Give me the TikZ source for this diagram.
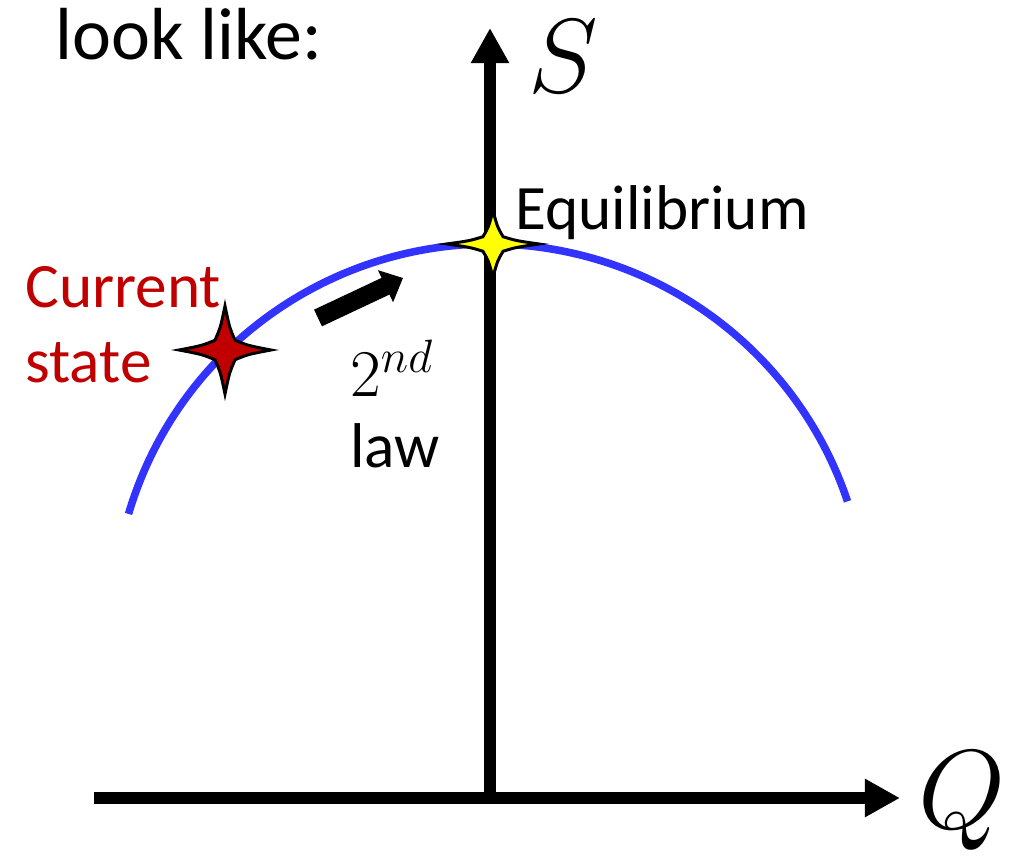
\RequirePackage{fix-cm}
\documentclass[tikz,border=0pt]{standalone}
\usepackage{fontspec}
\setmainfont{Carlito}
\usetikzlibrary{arrows.meta}
\definecolor{curveblue}{RGB}{51,51,255}
\definecolor{curred}{RGB}{192,0,0}
\definecolor{eqyellow}{RGB}{255,255,0}

\begin{document}
\begin{tikzpicture}[x=0.02cm, y=0.02cm,
    axis/.style={line width=6.8pt, -{Triangle[length=20pt, width=20.5pt]}},
    lbl/.style={inner sep=0pt, anchor=base west, font=\fontsize{36}{42}\selectfont},
    var/.style={inner sep=0pt, anchor=base west}]
  \useasboundingbox (0, 0) rectangle (1013, 858);
  \coordinate (o) at (490, 60);
  \coordinate (xl) at (94, 60);
  \coordinate (xr) at (900, 60);
  \coordinate (yt) at (490, 830);
  \coordinate (cen) at (490, 237);
  \coordinate (cs) at (225, 508);
  \coordinate (eq) at (493, 614);
  \coordinate (tail) at (318, 540);
  \coordinate (tip) at (403, 580);
  % axes
  \draw[axis] (xl) -- (xr);
  \draw[axis] (o) -- (yt);
  % entropy curve
  \draw[curveblue, line width=4.3pt] ([shift={(163.5:377)}]cen) arc[start angle=163.5, end angle=18.5, radius=377];
  % the two states
  \foreach \p/\rx/\ry/\col in {cs/46/44/curred, eq/46/33/eqyellow}
    \filldraw[shift={(\p)}, fill=\col, draw=black, line width=1.7pt, line join=miter]
      (\rx, 0) .. controls (0.5*\rx, 0.1*\ry) .. (0.22*\rx, 0.22*\ry)
      .. controls (0.1*\rx, 0.5*\ry) .. (0, \ry)
      .. controls (-0.1*\rx, 0.5*\ry) .. (-0.22*\rx, 0.22*\ry)
      .. controls (-0.5*\rx, 0.1*\ry) .. (-\rx, 0)
      .. controls (-0.5*\rx, -0.1*\ry) .. (-0.22*\rx, -0.22*\ry)
      .. controls (-0.1*\rx, -0.5*\ry) .. (0, -\ry)
      .. controls (0.1*\rx, -0.5*\ry) .. (0.22*\rx, -0.22*\ry)
      .. controls (0.5*\rx, -0.1*\ry) .. cycle;
  % direction of the 2nd law
  \draw[line width=10.5pt, -{Triangle[length=11pt, width=19.5pt]}] (tail) -- (tip);
  \node[lbl, font=\fontsize{42}{48}\selectfont] (look) at (55, 798) {look like:};
  \node[lbl, text=curred] (cur) at (25, 550) {Current};
  \node[lbl, text=curred] (state) at (25, 475) {state};
  \node[lbl] (eqlbl) at (515, 628) {Equilibrium};
  \node[lbl, font=\fontsize{38}{44}\selectfont] (second) at (350, 461) {$2^{nd}$};
  \node[lbl] (law) at (350, 390) {law};
  \node[var, font=\fontsize{60}{70}\selectfont] (s) at (528, 765) {$S$};
  \node[var, font=\fontsize{64}{74}\selectfont] (q) at (918, 30) {$Q$};
\end{tikzpicture}
\end{document}
